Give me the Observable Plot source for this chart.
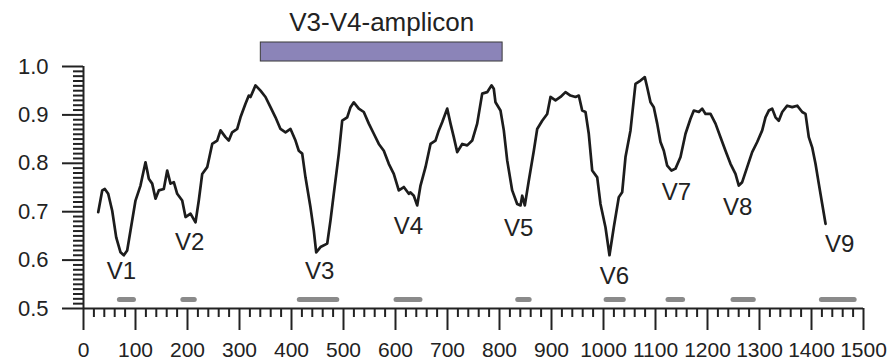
<!DOCTYPE html>
<html>
<head>
<meta charset="utf-8">
<script src="https://cdn.jsdelivr.net/npm/d3@7"></script>
<script src="https://cdn.jsdelivr.net/npm/@observablehq/plot@0.6"></script>
<style>
  html, body { margin: 0; padding: 0; background: #fff; }
  #chart svg { overflow: visible; display: block; }
</style>
</head>
<body>
<div id="chart"></div>
<script>
// Sequence position (E. coli 16S numbering)
const position = [
  28.3, 36.0, 41.0, 47.5, 55.2, 62.9, 71.2, 77.5, 84.0, 90.4, 100, 109.6, 119.2, 122.5, 125.6,
  132.1, 138.5, 144.8, 154.4, 161.0, 167.3, 173.7, 180.2, 189.8, 196.2, 205.8, 215.4, 221.7,
  228.3, 237.9, 247.5, 257.1, 263.5, 273.1, 279.4, 285.9, 295.6, 301.9, 311.5, 317.9,
  321.2, 330.8, 340.4, 350, 359.6, 369.2, 378.8, 388.5, 398.1, 407.7, 414.0, 420.6, 426.9,
  436.5, 442.9, 447.5, 455.8, 468.7, 475.0, 481.3, 491.0, 497.5, 507.1, 513.5, 519.8, 529.4,
  539.0, 548.7, 558.3, 567.9, 577.5, 587.1, 596.7, 606.3, 616.0, 625.6,
  628.8, 635.2, 641.7, 648.1, 657.7, 667.3, 676.9, 683.3, 689.8, 699.4, 705.8, 712.1, 718.7,
  728.3, 737.9, 747.5, 757.1, 766.7, 776.3, 784.6, 789.0, 792.3, 801.9, 808.3, 814.8, 824.4,
  834.0, 840.4, 843.7, 848.7, 856.3, 866.0, 872.5, 882.1, 891.7, 898.1, 907.7, 917.3, 926.9, 936.5,
  946.2, 952.5, 959.0, 965.4, 971.7, 978.3, 987.9, 994.2, 1003.8, 1011.5, 1019.8, 1029.4, 1035.9,
  1042.3, 1051.9, 1061.5, 1071.2, 1079.4, 1084.0, 1090.4, 1096.7, 1103.3, 1109.6, 1116.0, 1122.5,
  1130.8, 1138.5, 1148.1, 1157.7, 1167.3, 1173.7, 1183.3, 1189.8, 1196.2, 1205.8, 1215.4, 1225.0,
  1234.6, 1244.2, 1253.8, 1260.2, 1266.7, 1276.3, 1285.9, 1295.6, 1305.2, 1311.5, 1317.9, 1324.4,
  1330.8, 1337.1, 1343.7, 1353.3, 1362.9, 1372.5, 1382.1, 1388.5, 1394.8, 1401.3, 1407.7, 1414.0,
  1420.6, 1427.0
];
// Sequence similarity / conservation value
const similarity = [
  0.699, 0.744, 0.747, 0.737, 0.702, 0.647, 0.616, 0.610, 0.620, 0.661, 0.723, 0.754, 0.802, 0.785, 0.768,
  0.758, 0.727, 0.744, 0.747, 0.785, 0.758, 0.761, 0.737, 0.723, 0.689, 0.696, 0.678, 0.723,
  0.778, 0.792, 0.840, 0.847, 0.868, 0.854, 0.847, 0.864, 0.871, 0.895, 0.923, 0.940,
  0.937, 0.961, 0.950, 0.937, 0.916, 0.895, 0.871, 0.864, 0.871, 0.847, 0.826, 0.820, 0.771,
  0.709, 0.661, 0.616, 0.627, 0.634, 0.682, 0.737, 0.820, 0.888, 0.895, 0.916, 0.926, 0.913,
  0.906, 0.882, 0.861, 0.840, 0.826, 0.799, 0.778, 0.744, 0.751, 0.737,
  0.740, 0.733, 0.713, 0.754, 0.792, 0.840, 0.847, 0.868, 0.885, 0.913, 0.882, 0.854, 0.823,
  0.840, 0.837, 0.847, 0.882, 0.944, 0.947, 0.961, 0.954, 0.926, 0.909, 0.868, 0.806, 0.744,
  0.716, 0.713, 0.733, 0.713, 0.764, 0.826, 0.871, 0.888, 0.902, 0.937, 0.930, 0.937, 0.947, 0.940,
  0.937, 0.940, 0.909, 0.906, 0.861, 0.785, 0.771, 0.716, 0.668, 0.610, 0.668, 0.730, 0.740,
  0.813, 0.868, 0.964, 0.971, 0.978, 0.957, 0.926, 0.916, 0.882, 0.844, 0.826, 0.795,
  0.785, 0.789, 0.813, 0.861, 0.892, 0.909, 0.906, 0.913, 0.902, 0.902, 0.882, 0.854,
  0.826, 0.799, 0.778, 0.754, 0.761, 0.792, 0.823, 0.844, 0.868, 0.895, 0.909, 0.913,
  0.895, 0.888, 0.906, 0.919, 0.916, 0.919, 0.906, 0.902, 0.854, 0.833, 0.799, 0.758,
  0.716, 0.675
];

// Variable regions
const regionNames = ["V1", "V2", "V3", "V4", "V5", "V6", "V7", "V8", "V9"];
const regionStart = [70, 192, 416, 602, 836, 1006, 1125, 1250, 1420];
const regionEnd   = [97, 214, 488, 648, 858, 1039, 1153, 1289, 1483];
// Label anchor (data units) for each region name
const labelX = [73, 204, 454, 625, 837, 1021, 1140, 1258, 1454];
const labelY = [0.576, 0.636, 0.576, 0.669, 0.665, 0.566, 0.740, 0.709, 0.632];

// Amplicon
const ampliconName = "V3-V4-amplicon";
const ampliconStart = 341;
const ampliconEnd = 806;

// Tick values
const xTicks = d3.range(0, 1501, 100);
const xMinorTicks = d3.range(0, 1501, 20).filter(d => d % 100 !== 0);
const yTicks = [0.5, 0.6, 0.7, 0.8, 0.9, 1.0];
const yMinorTicks = d3.range(50, 101).filter(d => d % 10 !== 0).map(d => d / 100);

const series = position.map((p, i) => ({pos: p, sim: similarity[i]}));
const regions = regionNames.map((n, i) => ({name: n, start: regionStart[i], end: regionEnd[i], lx: labelX[i], ly: labelY[i]}));
const amplicon = [{name: ampliconName, start: ampliconStart, end: ampliconEnd}];

const ink = "#222";
const font = "Arial, 'Liberation Sans', Helvetica, sans-serif";

const chart = Plot.plot({
  width: 889,
  height: 361,
  marginLeft: 83,
  marginRight: 26,
  marginTop: 66,
  marginBottom: 53,
  style: {fontFamily: font, color: ink, background: "#fff", overflow: "visible"},
  x: {domain: [0, 1500], label: null},
  y: {domain: [0.5, 1.0], label: null},
  marks: [
    // minor ticks
    Plot.axisX({ticks: xMinorTicks, tickSize: 9, tickFormat: () => "", strokeWidth: 2, label: null}),
    Plot.axisY({ticks: yMinorTicks, tickSize: 10, tickFormat: () => "", strokeWidth: 2, label: null}),
    // major ticks
    Plot.axisX({ticks: xTicks, tickSize: 22, tickPadding: 12, tickFormat: d => String(d), fontSize: 21, strokeWidth: 2, label: null}),
    Plot.axisY({ticks: yTicks, tickSize: 21, tickPadding: 14, tickFormat: d3.format(".1f"), fontSize: 22, strokeWidth: 2, label: null}),
    // axis lines
    Plot.ruleY([0.5], {stroke: ink, strokeWidth: 2}),
    Plot.ruleX([0], {stroke: ink, strokeWidth: 2}),
    // variable region bars
    Plot.ruleY(regions, {x1: "start", x2: "end", y: 0.5, dy: -9, stroke: "#8a8a8a", strokeWidth: 5, strokeLinecap: "round"}),
    // amplicon bar and label
    Plot.rect(amplicon, {x1: "start", x2: "end", y1: 1.0103, y2: 1.0496, fill: "#8b84b8", stroke: "#3a3a3a", strokeWidth: 1}),
    Plot.text(amplicon, {x: d => (d.start + d.end) / 2, y: 1.091, text: "name", fontSize: 26, fill: ink}),
    // curve
    Plot.line(series, {x: "pos", y: "sim", stroke: "#1c1c1c", strokeWidth: 2.7, strokeLinejoin: "round"}),
    // region labels
    Plot.text(regions, {x: "lx", y: "ly", text: "name", fontSize: 24, fill: ink})
  ]
});
document.getElementById("chart").appendChild(chart);
</script>
</body>
</html>
